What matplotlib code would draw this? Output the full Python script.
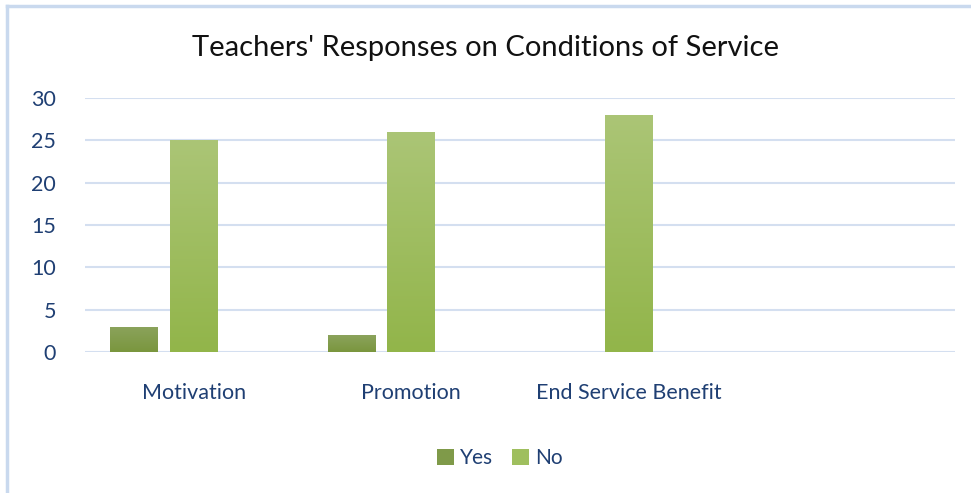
import numpy as np
import matplotlib
matplotlib.use('Agg')
import matplotlib.pyplot as plt
from matplotlib.colors import LinearSegmentedColormap
from matplotlib.patches import Patch
from matplotlib.lines import Line2D

# chart data
categories = ['Motivation', 'Promotion', 'End Service Benefit', '']
yes_vals = [3, 2, 0, 0]
no_vals = [25, 26, 28, 0]

plt.rcParams['font.family'] = ['Lato', 'DejaVu Sans']

fig = plt.figure(figsize=(9.71, 4.93), dpi=100)
ax = fig.add_axes([85 / 971, 1 - 352 / 493, 870 / 971, 254 / 493])

x = np.arange(len(categories))
width = 0.22
yes_cmap = LinearSegmentedColormap.from_list('yes', ['#7a963e', '#8ba35c'])
no_cmap = LinearSegmentedColormap.from_list('no', ['#92b54a', '#abc576'])
grad = np.linspace(0, 1, 100).reshape(-1, 1)


def gradient_bars(xpos, vals, cmap, color):
    bars = ax.bar(xpos, vals, width, color=color, zorder=2)
    for b in bars:
        if b.get_height() <= 0:
            continue
        x0, y0 = b.get_x(), b.get_y()
        im = ax.imshow(grad, cmap=cmap, origin='lower', aspect='auto',
                       extent=[x0, x0 + b.get_width(), y0, y0 + b.get_height()],
                       zorder=3)
        im.set_clip_path(b)
    return bars


gradient_bars(x - 0.275, yes_vals, yes_cmap, '#82994b')
gradient_bars(x, no_vals, no_cmap, '#9bbb59')

ax.set_xlim(-0.5, 3.5)
ax.set_ylim(0, 30)
ax.set_yticks(range(0, 31, 5))
ax.set_xticks(x)
ax.set_xticklabels(categories)
ax.grid(axis='y', color='#d4dff0', linewidth=1.5, zorder=0)
ax.set_axisbelow(True)
for s in ax.spines.values():
    s.set_visible(False)
ax.tick_params(length=0, colors='#1f3f73', labelsize=15.5)
ax.tick_params(axis='x', pad=22)
ax.tick_params(axis='y', pad=21)

fig.suptitle("Teachers' Responses on Conditions of Service", y=0.93,
             fontsize=21, color='#111111')

handles = [Patch(facecolor='#7f9a49', label='Yes'),
           Patch(facecolor='#9fbf5e', label='No')]
leg = fig.legend(handles=handles, loc='center',
                 bbox_to_anchor=(500 / 971, 1 - 458 / 493),
                 ncol=2, frameon=False, fontsize=15, handlelength=0.8,
                 handleheight=0.8, handletextpad=0.3, columnspacing=0.9)
for t in leg.get_texts():
    t.set_color('#1f3f73')

# outer frame (left and top edges)
fig.add_artist(Line2D([7 / 971, 7 / 971], [0, 1 - 6 / 493], color='#c9d9ee', lw=2.5))
fig.add_artist(Line2D([7 / 971, 1], [1 - 6 / 493, 1 - 6 / 493], color='#c9d9ee', lw=2.5))

fig.savefig('out.png', dpi=100, facecolor='white')
